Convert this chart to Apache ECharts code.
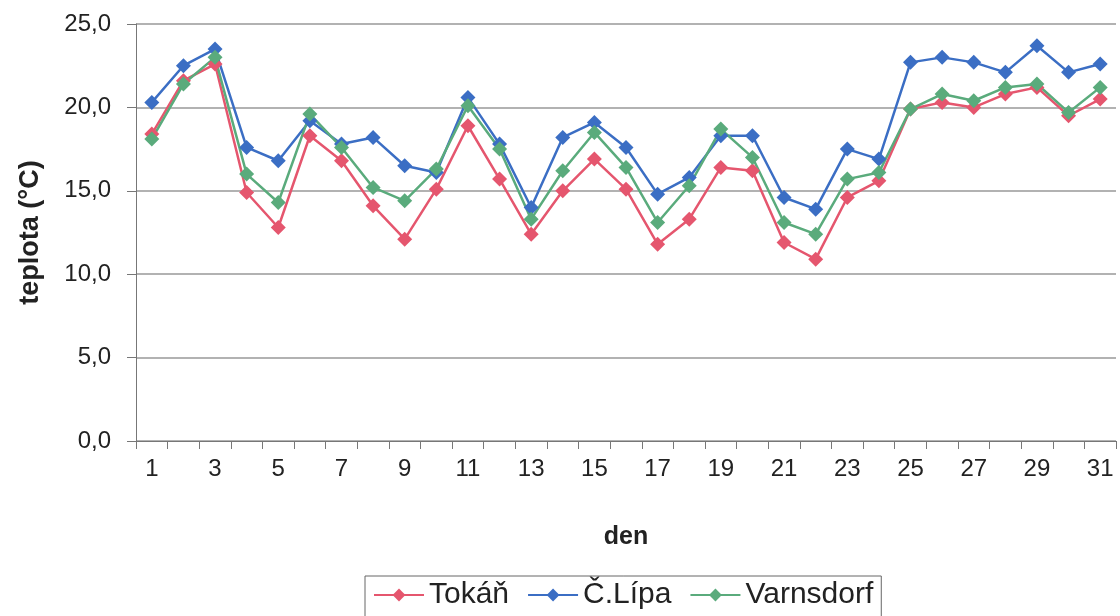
<!DOCTYPE html>
<html>
<head>
<meta charset="utf-8">
<script src="https://cdn.jsdelivr.net/npm/echarts@6/dist/echarts.min.js"></script>
<style>
  html, body { margin: 0; padding: 0; background: #fff; }
  #chart { width: 1120px; height: 616px; }
</style>
</head>
<body>
<div id="chart"></div>
<script>
    // dny v mesici
    var days = [];
    for (var d = 1; d <= 31; d++) days.push(String(d));

    var tokan = [18.4, 21.6, 22.6, 14.9, 12.8, 18.3, 16.8, 14.1, 12.1, 15.1,
                 18.9, 15.7, 12.4, 15.0, 16.9, 15.1, 11.8, 13.3, 16.4, 16.2,
                 11.9, 10.9, 14.6, 15.6, 19.9, 20.3, 20.0, 20.8, 21.2, 19.5, 20.5];
    var ceskaLipa = [20.3, 22.5, 23.5, 17.6, 16.8, 19.2, 17.8, 18.2, 16.5, 16.1,
                     20.6, 17.8, 14.0, 18.2, 19.1, 17.6, 14.8, 15.8, 18.3, 18.3,
                     14.6, 13.9, 17.5, 16.9, 22.7, 23.0, 22.7, 22.1, 23.7, 22.1, 22.6];
    var varnsdorf = [18.1, 21.4, 23.0, 16.0, 14.3, 19.6, 17.6, 15.2, 14.4, 16.3,
                     20.1, 17.5, 13.3, 16.2, 18.5, 16.4, 13.1, 15.3, 18.7, 17.0,
                     13.1, 12.4, 15.7, 16.1, 19.9, 20.8, 20.4, 21.2, 21.4, 19.7, 21.2];

    var chart = echarts.init(document.getElementById('chart'));

    function serie(name, data, color) {
        return {
            name: name,
            type: 'line',
            data: data,
            symbol: 'diamond',
            symbolSize: 15,
            lineStyle: {color: color, width: 2.5},
            itemStyle: {color: color},
            emphasis: {disabled: true}
        };
    }

    var option = {
        animation: false,
        textStyle: {fontFamily: 'Liberation Sans, Arial, sans-serif'},
        grid: {left: 136, right: 4, top: 24, bottom: 175},
        legend: {
            bottom: -6,
            left: 365,
            itemWidth: 50,
            itemHeight: 16,
            itemGap: 18,
            padding: [4, 8, 12, 8],
            borderColor: '#666',
            borderWidth: 1,
            textStyle: {fontSize: 30, color: '#222', fontFamily: 'Liberation Sans, Arial, sans-serif'},
            data: ['Tokáň', 'Č.Lípa', 'Varnsdorf']
        },
        xAxis: {
            type: 'category',
            data: days,
            name: 'den',
            nameLocation: 'middle',
            nameGap: 84,
            nameTextStyle: {fontSize: 25, fontWeight: 'bold', color: '#222'},
            axisLine: {lineStyle: {color: '#777', width: 1}},
            axisTick: {show: true, interval: 0, length: 8, lineStyle: {color: '#777'}},
            axisLabel: {interval: 1, fontSize: 24, color: '#222', margin: 16}
        },
        yAxis: {
            type: 'value',
            min: 0,
            max: 25,
            interval: 5,
            name: 'teplota (°C)',
            nameLocation: 'middle',
            nameGap: 92,
            nameTextStyle: {fontSize: 27, fontWeight: 'bold', color: '#222'},
            axisLine: {show: true, lineStyle: {color: '#777', width: 1}},
            axisTick: {show: true, length: 9, lineStyle: {color: '#777'}},
            axisLabel: {
                fontSize: 24, color: '#222', margin: 25,
                formatter: function (v) { return v.toFixed(1).replace('.', ','); }
            },
            splitLine: {lineStyle: {color: '#999', width: 1.5}}
        },
        series: [
            serie('Tokáň', tokan, '#e5566e'),
            serie('Č.Lípa', ceskaLipa, '#3b6ec4'),
            serie('Varnsdorf', varnsdorf, '#5aab7c')
        ]
    };
    chart.setOption(option);
</script>
</body>
</html>
